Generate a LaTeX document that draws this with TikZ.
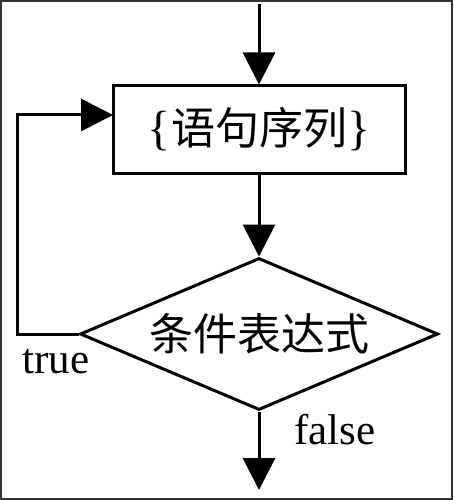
\documentclass[tikz,border=0pt]{standalone}
\usepackage{fontspec}
\setmainfont{Liberation Serif}
\newfontfamily\cjk{Noto Sans CJK SC}
\usetikzlibrary{arrows.meta,shapes.geometric}
\tikzset{
  flow/.style={line width=3pt, line join=miter, -{Triangle[length=32pt,width=32pt]}},
  boxnode/.style={draw, line width=3pt, minimum width=292pt, minimum height=87pt, inner sep=0pt, font=\fontsize{48}{50}\selectfont},
  decnode/.style={draw, diamond, aspect=2.355, line width=3pt, minimum width=358pt, minimum height=152pt, inner sep=0pt, font=\cjk\fontsize{44}{48}\selectfont},
  lbl/.style={inner sep=0pt, font=\fontsize{43}{46}\selectfont}
}
\begin{document}
\begin{tikzpicture}[x=1pt,y=-1pt]
\useasboundingbox (0,0) rectangle (453,500);
\draw[line width=2pt, draw=black!80] (1,1) rectangle (452,499);
\node[boxnode] (box) at (259,129.5) {\{{\cjk\fontsize{44}{48}\selectfont 语句序列}\}};
\node[decnode] (dec) at (259,334) {条件表达式};
\coordinate (top) at (259,4);
\coordinate (bot) at (259,490);
\coordinate (lc) at (17,334);
\coordinate (in) at (113,115);
\node[lbl] (t) at (56,362) {true};
\node[lbl] (f) at (335,430) {false};
\draw[flow] (top) -- (box.north);
\draw[flow] (box.south) -- (dec.north);
\draw[flow] (dec.south) -- (bot);
\draw[flow] (dec.west) -- (lc) |- (in);
\end{tikzpicture}
\end{document}
